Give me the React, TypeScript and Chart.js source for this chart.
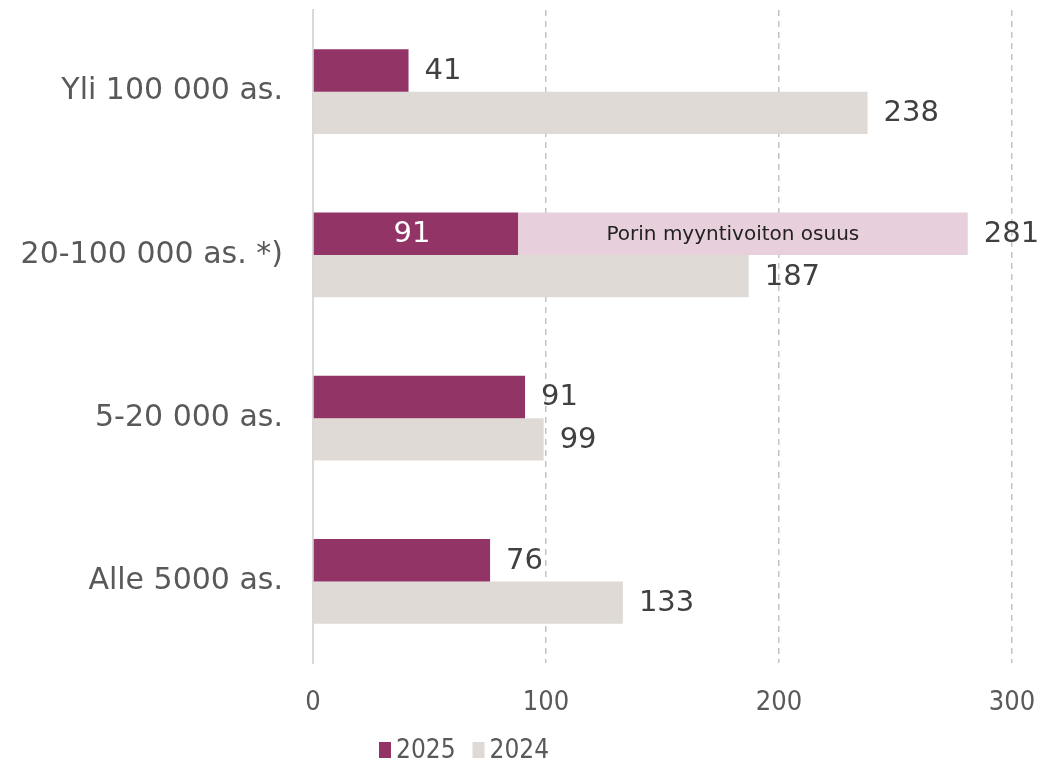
import React, { useEffect, useRef } from "react";
import { Chart, registerables } from "chart.js";

Chart.register(...registerables);

const categories = ["Yli 100 000 as.", "20-100 000 as. *)", "5-20 000 as.", "Alle 5000 as."];
const values2025 = [41, 88, 91, 76];
const labels2025 = ["41", "91", "91", "76"];
const porinShare = [0, 193, 0, 0];
const porinTotalLabels = ["", "281", "", ""];
const porinText = "Porin myyntivoiton osuus";
const values2024 = [238, 187, 99, 133];
const xTicks = [0, 100, 200, 300];
const legendSeries = ["2025", "2024"];

const C2025 = "#923466";
const C2024 = "#dfdad6";
const CPORIN = "#e8cfdc";
const FONT = "'DejaVu Sans', sans-serif";
const NARROW = "'DejaVu Sans Condensed', 'DejaVu Sans', sans-serif";

const labelPlugin = {
  id: "valueLabels",
  afterDatasetsDraw(chart: any) {
    const ctx = chart.ctx;
    ctx.save();
    ctx.textBaseline = "middle";
    const m0 = chart.getDatasetMeta(0);
    const m1 = chart.getDatasetMeta(1);
    const m2 = chart.getDatasetMeta(2);
    const big = `29px ${FONT}`;
    categories.forEach((_, i) => {
      const b0 = m0.data[i];
      ctx.font = big;
      if (porinShare[i] > 0) {
        ctx.fillStyle = "#ffffff";
        ctx.textAlign = "center";
        ctx.fillText(labels2025[i], (b0.base + b0.x) / 2 - 4, b0.y + 1);
        const b1 = m1.data[i];
        ctx.font = `20px ${FONT}`;
        ctx.fillStyle = "#222222";
        ctx.fillText(porinText, (b1.base + b1.x) / 2 - 10, b1.y + 1);
        ctx.font = big;
        ctx.textAlign = "left";
        ctx.fillStyle = "#404040";
        ctx.fillText(porinTotalLabels[i], b1.x + 16, b1.y + 1);
      } else {
        ctx.fillStyle = "#404040";
        ctx.textAlign = "left";
        ctx.fillText(labels2025[i], b0.x + 16, b0.y + 1);
      }
      const b2 = m2.data[i];
      ctx.font = big;
      ctx.fillStyle = "#404040";
      ctx.textAlign = "left";
      ctx.fillText(String(values2024[i]), b2.x + 16, b2.y + 1);
    });
    ctx.restore();
  },
};

const legendPlugin = {
  id: "customLegend",
  afterDraw(chart: any) {
    const ctx = chart.ctx;
    ctx.save();
    ctx.font = `26px ${NARROW}`;
    ctx.textBaseline = "middle";
    ctx.textAlign = "left";
    let x = 379;
    const y = 750;
    legendSeries.forEach((name) => {
      const ds = chart.data.datasets.find((d: any) => d.label === name);
      ctx.fillStyle = ds.backgroundColor;
      ctx.fillRect(x, y - 8, 12, 16);
      ctx.fillStyle = "#595959";
      ctx.fillText(name, x + 17, y + 1);
      x += 17 + ctx.measureText(name).width + 17;
    });
    ctx.restore();
  },
};

export default function App() {
  const ref = useRef<HTMLCanvasElement | null>(null);
  useEffect(() => {
    document.body.style.margin = "0";
    if (!ref.current) return;
    const chart = new Chart(ref.current, {
      type: "bar",
      data: {
        labels: categories,
        datasets: [
          { label: "2025", data: values2025, backgroundColor: C2025, stack: "a" },
          { label: "Porin", data: porinShare, backgroundColor: CPORIN, stack: "a" },
          { label: "2024", data: values2024, backgroundColor: C2024, stack: "b" },
        ],
      },
      plugins: [labelPlugin, legendPlugin],
      options: {
        indexAxis: "y",
        animation: false,
        responsive: false,
        maintainAspectRatio: false,
        layout: { padding: { top: 10, right: 29, left: 0, bottom: 0 } },
        datasets: { bar: { categoryPercentage: 0.52, barPercentage: 1 } },
        scales: {
          x: {
            stacked: true,
            min: 0,
            max: 300,
            afterBuildTicks: (s: any) => {
              s.ticks = xTicks.map((v) => ({ value: v }));
            },
            afterFit: (s: any) => {
              s.height = 100;
              s.paddingLeft = 0;
              s.paddingRight = 0;
            },
            ticks: { color: "#595959", font: { size: 27, family: NARROW }, padding: 24, maxRotation: 0 },
            grid: {
              color: (c: any) => (c.tick && c.tick.value === 0 ? "rgba(0,0,0,0)" : "#c4c4c4"),
              lineWidth: 1.5,
              drawTicks: false,
            },
            border: { display: false, dash: [6, 5] },
          },
          y: {
            stacked: true,
            afterFit: (s: any) => {
              s.width = 313;
              s.paddingTop = 0;
              s.paddingBottom = 0;
            },
            ticks: { color: "#595959", font: { size: 30, family: FONT }, padding: 30 },
            grid: { display: false, drawTicks: false },
            border: { display: true, color: "#d9d9d9", width: 2 },
          },
        },
        plugins: {
          legend: { display: false },
          tooltip: { enabled: false },
        },
      },
    } as any);
    return () => chart.destroy();
  }, []);
  return (
    <div style={{ width: 1041, height: 763 }}>
      <canvas ref={ref} width={1041} height={763} style={{ display: "block" }} />
    </div>
  );
}
